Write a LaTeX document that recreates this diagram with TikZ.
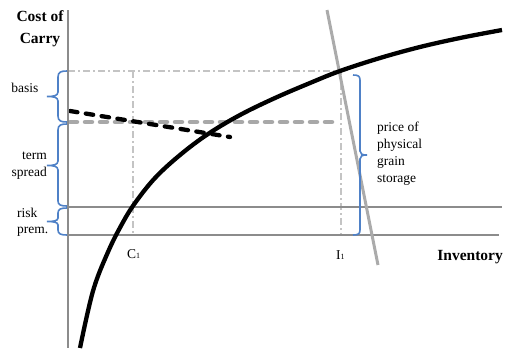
\documentclass[tikz,border=0pt]{standalone}
\usepackage{fontspec}
\setmainfont{Liberation Serif}
\definecolor{axgray}{HTML}{8C8C8C}
\definecolor{steepgray}{HTML}{ABABAB}
\definecolor{ddgray}{HTML}{C4C4C4}
\definecolor{gdash}{HTML}{A8A8A8}
\definecolor{bracecol}{HTML}{4F81C7}
\begin{document}
\begin{tikzpicture}[x=1pt,y=-1pt,
  axisline/.style={draw=axgray,line width=2pt},
  steepline/.style={draw=steepgray,line width=3pt},
  dashdotline/.style={draw=ddgray,line width=1.3pt,dash pattern=on 7pt off 3pt on 2pt off 3pt},
  graydash/.style={draw=gdash,line width=4.5pt,line cap=round,dash pattern=on 7pt off 8pt},
  blackdash/.style={draw=black,line width=4.3pt,line cap=round,dash pattern=on 7.5pt off 8.5pt},
  curveline/.style={draw=black,line width=4.3pt},
  bracket/.style={draw=bracecol,line width=1.6pt},
  lbl/.style={inner sep=0pt,font=\fontsize{13.5}{17}\selectfont},
  bold/.style={inner sep=0pt,font=\fontsize{15.5}{20}\selectfont\bfseries}]
\useasboundingbox (0,0) rectangle (508,351);

% dash-dot guides
\draw[dashdotline] (68,71) -- (341,71) -- (341,235);
\draw[dashdotline] (133,71) -- (133,235);

% horizontal lines
\draw[axisline] (68,207) -- (502,207);
\draw[axisline] (68,235) -- (499,235);

% gray dashed
\draw[graydash] (70,122) -- (333,122);

% black dashed
\draw[blackdash] (70,111) -- (230,137);

% steep gray line
\draw[steepline] (327,10) -- (378,265);

% curve
\draw[curveline] plot[smooth,tension=0.6] coordinates {(80,348) (93,291) (108,252) (122,224) (135,203) (155,178) (180,155) (208,134) (240,115) (275,98) (310,83) (340,71) (380,58) (420,47) (460,38) (502,30)};

% vertical axis
\draw[axisline] (68,10) -- (68,348);

% left braces
\draw[bracket] (67,71) .. controls (61,71) and (58,72) .. (58,77) -- (58,92) .. controls (58,96) and (53,96.5) .. (47,96.5) .. controls (53,96.5) and (58,97) .. (58,101) -- (58,116) .. controls (58,121) and (61,122) .. (67,122);
\draw[bracket] (67,124) .. controls (61,124) and (58,125) .. (58,130) -- (58,161) .. controls (58,165) and (53,165.5) .. (47,165.5) .. controls (53,165.5) and (58,166) .. (58,170) -- (58,201) .. controls (58,205) and (61,206) .. (67,206);
\draw[bracket] (67,208) .. controls (61,208) and (58,209) .. (58,213) -- (58,218) .. controls (58,221) and (53,221.5) .. (47,221.5) .. controls (53,221.5) and (58,222) .. (58,225) -- (58,230) .. controls (58,234) and (61,235) .. (67,235);

% right bracket
\draw[bracket] (353,75) .. controls (358,75) and (360,76) .. (360,80) -- (360,151) .. controls (360,154) and (362,155) .. (367,155) .. controls (362,155) and (360,156) .. (360,159) -- (360,230) .. controls (360,234) and (358,235) .. (353,235);

% labels
\node[bold,anchor=base] (cost) at (40,21.5) {Cost of};
\node[bold,anchor=base] (carry) at (40,43) {Carry};
\node[lbl,anchor=base east] (basis) at (38.5,92.5) {basis};
\node[lbl,anchor=base east] (term) at (47,159) {term};
\node[lbl,anchor=base east] (spread) at (47,176) {spread};
\node[lbl,anchor=base west] (risk) at (17,217) {risk};
\node[lbl,anchor=base west] (prem) at (17,233) {prem.};
\node[lbl,anchor=base west] (price) at (377,131) {price of};
\node[lbl,anchor=base west] (physical) at (377,148) {physical};
\node[lbl,anchor=base west] (grain) at (377,165) {grain};
\node[lbl,anchor=base west] (storage) at (377,182) {storage};
\node[lbl,anchor=base west] (c1) at (127,258) {C\raisebox{-0.3pt}{\fontsize{8}{8}\selectfont 1}};
\node[lbl,anchor=base west] (i1) at (336,259) {I\raisebox{-0.3pt}{\fontsize{8}{8}\selectfont 1}};
\node[bold,anchor=base east] (inv) at (503,260) {Inventory};
\end{tikzpicture}
\end{document}
